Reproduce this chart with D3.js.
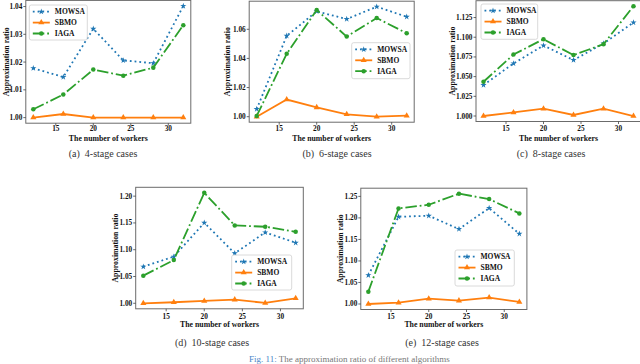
<!DOCTYPE html>
<html><head><meta charset="utf-8">
<script src="https://cdn.jsdelivr.net/npm/d3@7"></script>
<style>body{margin:0;background:#fff}svg{display:block}text{font-family:"Liberation Serif","Times New Roman",serif}</style>
</head><body>
<svg id="c" width="640" height="364"></svg>
<script>
// ---------- data ----------
const workers = [12, 16, 20, 24, 28, 32];
const xTicks = [15, 20, 25, 30];
const seriesNames = ["MOWSA", "SBMO", "IAGA"];

const mowsa4 = [1.0178, 1.0146, 1.0320, 1.0206, 1.0196, 1.0402];
const sbmo4  = [1.0000, 1.0013, 1.0000, 1.0000, 1.0000, 1.0000];
const iaga4  = [1.0030, 1.0083, 1.0173, 1.0151, 1.0180, 1.0333];

const mowsa6 = [1.0052, 1.0555, 1.0723, 1.0670, 1.0755, 1.0686];
const sbmo6  = [1.0000, 1.0118, 1.0064, 1.0016, 1.0000, 1.0007];
const iaga6  = [1.0005, 1.0432, 1.0732, 1.0550, 1.0677, 1.0573];

const mowsa8 = [1.0393, 1.0667, 1.0895, 1.0710, 1.0921, 1.1187];
const sbmo8  = [1.0000, 1.0046, 1.0093, 1.0013, 1.0093, 1.0000];
const iaga8  = [1.0435, 1.0780, 1.0975, 1.0773, 1.0912, 1.1394];

const mowsa10 = [1.0683, 1.0870, 1.1503, 1.0932, 1.1323, 1.1130];
const sbmo10  = [1.0000, 1.0019, 1.0043, 1.0068, 1.0006, 1.0093];
const iaga10  = [1.0516, 1.0807, 1.2062, 1.1453, 1.1429, 1.1335];

const mowsa12 = [1.0668, 1.2026, 1.2050, 1.1740, 1.2228, 1.1630];
const sbmo12  = [1.0000, 1.0030, 1.0124, 1.0078, 1.0148, 1.0047];
const iaga12  = [1.0287, 1.2220, 1.2306, 1.2562, 1.2438, 1.2104];

const yTicks4  = [1.00, 1.01, 1.02, 1.03, 1.04];
const yTicks6  = [1.00, 1.02, 1.04, 1.06];
const yTicks8  = [1.000, 1.025, 1.050, 1.075, 1.100, 1.125];
const yTicks10 = [1.00, 1.05, 1.10, 1.15, 1.20];
const yTicks12 = [1.00, 1.05, 1.10, 1.15, 1.20, 1.25];

const captions = ["(a)  4-stage cases", "(b)  6-stage cases", "(c)  8-stage cases", "(d)  10-stage cases", "(e)  12-stage cases"];

// ---------- layout / style ----------
const colors = ["#1f77b4", "#ff7f0e", "#2ca02c"];
const LW = 1.8;
const dashes = [`${LW*1} ${LW*1.65}`, null, `${LW*6.4} ${LW*1.6} ${LW*1} ${LW*1.6}`];
const symbols = [d3.symbolStar, d3.symbolTriangle, d3.symbolCircle];
const symSize = [12, 16, 16];

const panels = [
  {series:[mowsa4, sbmo4, iaga4], yt:yTicks4, fmt:".2f", rect:[25.8, 0.4, 190.8, 123.2], ylx:6, row:0, capX:103, leg:[29.3, 5, 58, 35]},
  {series:[mowsa6, sbmo6, iaga6], yt:yTicks6, fmt:".2f", rect:[249.2, 1.2, 414.2, 122.2], ylx:227, row:0, capX:337, leg:[351.7, 42.7, 58.3, 36]},
  {series:[mowsa8, sbmo8, iaga8], yt:yTicks8, fmt:".3f", rect:[476, 0.7, 641, 121.5], ylx:452, row:0, capX:551, leg:[481, 4, 56.7, 35.3]},
  {series:[mowsa10, sbmo10, iaga10], yt:yTicks10, fmt:".2f", rect:[135.7, 187.3, 303.3, 308.8], ylx:115, row:1, capX:212, leg:[231.7, 255, 60, 35]},
  {series:[mowsa12, sbmo12, iaga12], yt:yTicks12, fmt:".2f", rect:[360.8, 188.2, 526.9, 309.5], ylx:340, row:1, capX:442, leg:[455, 250, 59.3, 36]}
];
const rowY = [{tick:131, title:140.5, cap:157}, {tick:318.5, title:327, cap:346}];

const svg = d3.select("#c");

function padded(lo, hi) { const m = (hi - lo) * 0.05; return [lo - m, hi + m]; }

panels.forEach((p, pi) => {
  const [L, T, R, B] = p.rect;
  const xe = d3.extent(workers);
  const all = p.series.flat();
  const x = d3.scaleLinear().domain(padded(xe[0], xe[1])).range([L, R]);
  const y = d3.scaleLinear().domain(padded(d3.min(all), d3.max(all))).range([B, T]);
  const g = svg.append("g");
  const ry = rowY[p.row];

  // frame
  g.append("rect").attr("x", L).attr("y", T).attr("width", R - L).attr("height", B - T)
    .attr("fill", "none").attr("stroke", "#6b6b6b").attr("stroke-width", 1);

  // x ticks
  xTicks.forEach(t => {
    g.append("line").attr("x1", x(t)).attr("x2", x(t)).attr("y1", B).attr("y2", B + 2.5)
      .attr("stroke", "#444").attr("stroke-width", 0.8);
    g.append("text").attr("x", x(t)).attr("y", ry.tick).attr("text-anchor", "middle")
      .attr("font-weight", "bold").attr("font-size", 7.3).attr("fill", "#111").text(t);
  });
  // y ticks
  const f = d3.format(p.fmt);
  p.yt.forEach(t => {
    g.append("line").attr("x1", L - 2.5).attr("x2", L).attr("y1", y(t)).attr("y2", y(t))
      .attr("stroke", "#444").attr("stroke-width", 0.8);
    g.append("text").attr("x", L - 3.5).attr("y", y(t) + 2.5).attr("text-anchor", "end")
      .attr("font-weight", "bold").attr("font-size", 7.3).attr("fill", "#111").text(f(t));
  });
  // axis titles
  g.append("text").attr("x", (L + R) / 2).attr("y", ry.title).attr("text-anchor", "middle")
    .attr("font-weight", "bold").attr("font-size", 7.8).attr("fill", "#111")
    .text("The number of workers");
  g.append("text").attr("transform", `translate(${p.ylx + 2.8},${(T + B) / 2}) rotate(-90)`).attr("text-anchor", "middle")
    .attr("font-weight", "bold").attr("font-size", 7.8).attr("fill", "#111")
    .text("Approximation ratio");
  // caption
  g.append("text").attr("x", p.capX).attr("y", ry.cap).attr("text-anchor", "middle")
    .attr("font-size", 10).attr("fill", "#333").style("white-space", "pre").text(captions[pi]);

  // lines
  const clipId = "clip" + pi;
  svg.append("clipPath").attr("id", clipId).append("rect").attr("x", L - 6).attr("y", T - 6).attr("width", R - L + 12).attr("height", B - T + 12);
  const lg = g.append("g").attr("clip-path", `url(#${clipId})`);
  const line = d3.line().x((d, i) => x(workers[i])).y(d => y(d));
  p.series.forEach((s, si) => {
    lg.append("path").attr("d", line(s)).attr("fill", "none").attr("stroke", colors[si])
      .attr("stroke-width", LW).attr("stroke-dasharray", dashes[si]);
    s.forEach((v, i) => {
      lg.append("path").attr("d", d3.symbol(symbols[si], symSize[si])())
        .attr("transform", `translate(${x(workers[i])},${y(v)})`).attr("fill", colors[si]);
    });
  });

  // legend
  const [lx, ly, lw, lh] = p.leg;
  const leg = g.append("g");
  leg.append("rect").attr("x", lx).attr("y", ly).attr("width", lw).attr("height", lh).attr("rx", 2)
    .attr("fill", "#fff").attr("fill-opacity", 0.85).attr("stroke", "#d0d0d0").attr("stroke-width", 0.8);
  seriesNames.forEach((n, si) => {
    const yy = ly + 6.7 + si * 10.9;
    leg.append("line").attr("x1", lx + 3.5).attr("x2", lx + 20.5).attr("y1", yy).attr("y2", yy)
      .attr("stroke", colors[si]).attr("stroke-width", LW).attr("stroke-dasharray", dashes[si]);
    leg.append("path").attr("d", d3.symbol(symbols[si], symSize[si])())
      .attr("transform", `translate(${lx + 12},${yy})`).attr("fill", colors[si]);
    leg.append("text").attr("x", lx + 25.5).attr("y", yy + 2.7)
      .attr("font-weight", "bold").attr("font-size", 7.5).attr("fill", "#111").text(n);
  });
});

// figure caption at the bottom
const fc = svg.append("text").attr("x", 249).attr("y", 362).attr("font-size", 9);
fc.append("tspan").attr("fill", "#4a86c8").text("Fig. 11: ");
fc.append("tspan").attr("fill", "#777").text("The approximation ratio of different algorithms");
</script>
</body></html>
